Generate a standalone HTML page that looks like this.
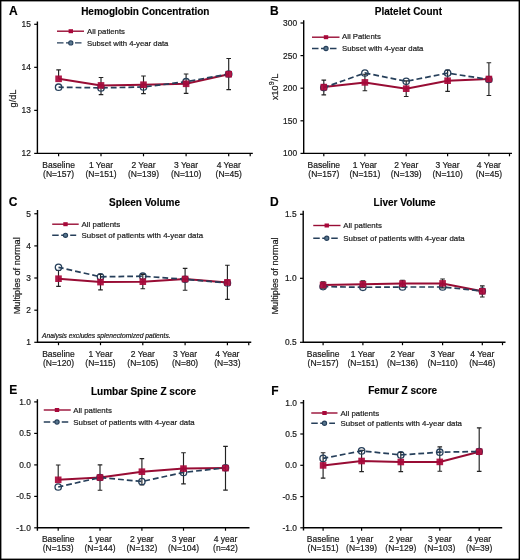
<!DOCTYPE html>
<html><head><meta charset="utf-8"><style>
html,body{margin:0;padding:0;background:#fff;}
svg{display:block;font-family:"Liberation Sans", sans-serif;}
text{fill:#1a1a1a;stroke:#1a1a1a;stroke-width:0.2px;}
text[font-weight=bold]{fill:#000;stroke:#000;stroke-width:0.15px;}
text{filter:grayscale(1);}
</style></head><body>
<svg width="520" height="560" viewBox="0 0 520 560">
<rect width="520" height="560" fill="#fff"/>
<rect x="0.7" y="0.7" width="518.6" height="558.6" fill="none" stroke="#000" stroke-width="1.4"/>
<text x="9" y="15.1" font-size="12" font-weight="bold" fill="#000">A</text>
<text x="145.3" y="15" font-size="10" font-weight="bold" text-anchor="middle" fill="#000">Hemoglobin Concentration</text>
<path d="M37.4 21.5V153.4M36.75 153.4H252.8" fill="none" stroke="#000" stroke-width="1.4"/>
<path d="M34.2 24.3H37.4" stroke="#000" stroke-width="1.2"/>
<text x="30.8" y="27.3" font-size="8.4" text-anchor="end" fill="#222">15</text>
<path d="M34.2 67.33H37.4" stroke="#000" stroke-width="1.2"/>
<text x="30.8" y="70.33" font-size="8.4" text-anchor="end" fill="#222">14</text>
<path d="M34.2 110.37H37.4" stroke="#000" stroke-width="1.2"/>
<text x="30.8" y="113.37" font-size="8.4" text-anchor="end" fill="#222">13</text>
<path d="M34.2 153.4H37.4" stroke="#000" stroke-width="1.2"/>
<text x="30.8" y="156.4" font-size="8.4" text-anchor="end" fill="#222">12</text>
<path d="M58.6 153.4V156.3" stroke="#000" stroke-width="1.2"/>
<path d="M101 153.4V156.3" stroke="#000" stroke-width="1.2"/>
<path d="M143.5 153.4V156.3" stroke="#000" stroke-width="1.2"/>
<path d="M186.1 153.4V156.3" stroke="#000" stroke-width="1.2"/>
<path d="M228.7 153.4V156.3" stroke="#000" stroke-width="1.2"/>
<path d="M250.2 153.4V156.3" stroke="#000" stroke-width="1.2"/>
<text x="58.6" y="167.6" font-size="8.5" text-anchor="middle" fill="#222">Baseline</text>
<text x="58.6" y="176.8" font-size="8.5" text-anchor="middle" fill="#222">(N=157)</text>
<text x="101" y="167.6" font-size="8.5" text-anchor="middle" fill="#222">1 Year</text>
<text x="101" y="176.8" font-size="8.5" text-anchor="middle" fill="#222">(N=151)</text>
<text x="143.5" y="167.6" font-size="8.5" text-anchor="middle" fill="#222">2 Year</text>
<text x="143.5" y="176.8" font-size="8.5" text-anchor="middle" fill="#222">(N=139)</text>
<text x="186.1" y="167.6" font-size="8.5" text-anchor="middle" fill="#222">3 Year</text>
<text x="186.1" y="176.8" font-size="8.5" text-anchor="middle" fill="#222">(N=110)</text>
<text x="228.7" y="167.6" font-size="8.5" text-anchor="middle" fill="#222">4 Year</text>
<text x="228.7" y="176.8" font-size="8.5" text-anchor="middle" fill="#222">(N=45)</text>
<text transform="translate(16.4 98.5) rotate(-90)" font-size="9.2" text-anchor="middle" fill="#222">g/dL</text>
<path d="M57 31.2H84" stroke="#980c34" stroke-width="1.4"/>
<rect x="68.6" y="29.2" width="4.4" height="4" fill="#a8083a"/>
<path d="M57 42.9H81.5" stroke="#263f5a" stroke-width="1.4" stroke-dasharray="6.5 2.5"/>
<circle cx="70.8" cy="42.9" r="2.1" fill="#5a7890" stroke="#263f5a" stroke-width="1.1"/>
<text x="87" y="34" font-size="7.75" fill="#222">All patients</text>
<text x="87" y="45.7" font-size="7.75" fill="#222">Subset with 4-year data</text>
<path d="M58.6 78.8V69.8M56.3 69.8H60.9" stroke="#222" stroke-width="1.15" fill="none"/>
<path d="M101 85.4V77.5M98.7 77.5H103.3" stroke="#222" stroke-width="1.15" fill="none"/>
<path d="M101 85.4V94.6M98.7 94.6H103.3" stroke="#222" stroke-width="1.15" fill="none"/>
<path d="M143.5 84.7V76M141.2 76H145.8" stroke="#222" stroke-width="1.15" fill="none"/>
<path d="M143.5 84.7V93.6M141.2 93.6H145.8" stroke="#222" stroke-width="1.15" fill="none"/>
<path d="M186.1 83.8V74M183.8 74H188.4" stroke="#222" stroke-width="1.15" fill="none"/>
<path d="M186.1 83.8V93.3M183.8 93.3H188.4" stroke="#222" stroke-width="1.15" fill="none"/>
<path d="M228.7 74.2V58.5M226.4 58.5H231" stroke="#222" stroke-width="1.15" fill="none"/>
<path d="M228.7 74.2V89.6M226.4 89.6H231" stroke="#222" stroke-width="1.15" fill="none"/>
<polyline points="58.6,78.8 101,85.4 143.5,84.7 186.1,83.8 228.7,74.2" fill="none" stroke="#980c34" stroke-width="2"/>
<polyline points="58.6,87.2 101,87.9 143.5,87 186.1,81.7 228.7,74" fill="none" stroke="#263f5a" stroke-width="1.7" stroke-dasharray="5.8 3" stroke-dashoffset="0.6"/>
<circle cx="58.6" cy="87.2" r="3.2" fill="none" stroke="#263f5a" stroke-width="1.3"/>
<circle cx="101" cy="87.9" r="3.2" fill="none" stroke="#263f5a" stroke-width="1.3"/>
<circle cx="143.5" cy="87" r="3.2" fill="none" stroke="#263f5a" stroke-width="1.3"/>
<circle cx="186.1" cy="81.7" r="3.2" fill="none" stroke="#263f5a" stroke-width="1.3"/>
<circle cx="228.7" cy="74" r="3.2" fill="none" stroke="#263f5a" stroke-width="1.3"/>
<rect x="55.3" y="75.5" width="6.6" height="6.6" fill="#a8083a" fill-opacity="0.92"/>
<rect x="97.7" y="82.1" width="6.6" height="6.6" fill="#a8083a" fill-opacity="0.92"/>
<rect x="140.2" y="81.4" width="6.6" height="6.6" fill="#a8083a" fill-opacity="0.92"/>
<rect x="182.8" y="80.5" width="6.6" height="6.6" fill="#a8083a" fill-opacity="0.92"/>
<rect x="225.4" y="70.9" width="6.6" height="6.6" fill="#a8083a" fill-opacity="0.92"/>
<text x="270" y="15.1" font-size="12" font-weight="bold" fill="#000">B</text>
<text x="408.4" y="15.1" font-size="10" font-weight="bold" text-anchor="middle" fill="#000">Platelet Count</text>
<path d="M303.7 20.2V153.4M303.05 153.4H512" fill="none" stroke="#000" stroke-width="1.4"/>
<path d="M300.5 23H303.7" stroke="#000" stroke-width="1.2"/>
<text x="297.1" y="26" font-size="8.4" text-anchor="end" fill="#222">300</text>
<path d="M300.5 55.6H303.7" stroke="#000" stroke-width="1.2"/>
<text x="297.1" y="58.6" font-size="8.4" text-anchor="end" fill="#222">250</text>
<path d="M300.5 88.2H303.7" stroke="#000" stroke-width="1.2"/>
<text x="297.1" y="91.2" font-size="8.4" text-anchor="end" fill="#222">200</text>
<path d="M300.5 120.8H303.7" stroke="#000" stroke-width="1.2"/>
<text x="297.1" y="123.8" font-size="8.4" text-anchor="end" fill="#222">150</text>
<path d="M300.5 153.4H303.7" stroke="#000" stroke-width="1.2"/>
<text x="297.1" y="156.4" font-size="8.4" text-anchor="end" fill="#222">100</text>
<path d="M323.8 153.4V156.3" stroke="#000" stroke-width="1.2"/>
<path d="M364.9 153.4V156.3" stroke="#000" stroke-width="1.2"/>
<path d="M406.2 153.4V156.3" stroke="#000" stroke-width="1.2"/>
<path d="M447.6 153.4V156.3" stroke="#000" stroke-width="1.2"/>
<path d="M488.9 153.4V156.3" stroke="#000" stroke-width="1.2"/>
<path d="M509.5 153.4V156.3" stroke="#000" stroke-width="1.2"/>
<text x="323.8" y="167.6" font-size="8.5" text-anchor="middle" fill="#222">Baseline</text>
<text x="323.8" y="176.8" font-size="8.5" text-anchor="middle" fill="#222">(N=157)</text>
<text x="364.9" y="167.6" font-size="8.5" text-anchor="middle" fill="#222">1 Year</text>
<text x="364.9" y="176.8" font-size="8.5" text-anchor="middle" fill="#222">(N=151)</text>
<text x="406.2" y="167.6" font-size="8.5" text-anchor="middle" fill="#222">2 Year</text>
<text x="406.2" y="176.8" font-size="8.5" text-anchor="middle" fill="#222">(N=139)</text>
<text x="447.6" y="167.6" font-size="8.5" text-anchor="middle" fill="#222">3 Year</text>
<text x="447.6" y="176.8" font-size="8.5" text-anchor="middle" fill="#222">(N=110)</text>
<text x="488.9" y="167.6" font-size="8.5" text-anchor="middle" fill="#222">4 Year</text>
<text x="488.9" y="176.8" font-size="8.5" text-anchor="middle" fill="#222">(N=45)</text>
<text transform="translate(277.6 86.9) rotate(-90)" font-size="9.2" text-anchor="middle" fill="#222">x10<tspan dy='-3.4' font-size='7'>9</tspan><tspan dy='3.4'>/L</tspan></text>
<path d="M312 37.2H339.5" stroke="#980c34" stroke-width="1.4"/>
<rect x="323.8" y="35.2" width="4.4" height="4" fill="#a8083a"/>
<path d="M312 48.5H337" stroke="#263f5a" stroke-width="1.4" stroke-dasharray="6.5 2.5"/>
<circle cx="326" cy="48.5" r="2.1" fill="#5a7890" stroke="#263f5a" stroke-width="1.1"/>
<text x="342" y="39.4" font-size="7.75" fill="#222">All Patients</text>
<text x="342" y="51.2" font-size="7.75" fill="#222">Subset with 4-year data</text>
<path d="M323.8 87.1V80.1M321.5 80.1H326.1" stroke="#222" stroke-width="1.15" fill="none"/>
<path d="M323.8 87.1V94.9M321.5 94.9H326.1" stroke="#222" stroke-width="1.15" fill="none"/>
<path d="M364.9 82.4V74.2M362.6 74.2H367.2" stroke="#222" stroke-width="1.15" fill="none"/>
<path d="M364.9 82.4V90.7M362.6 90.7H367.2" stroke="#222" stroke-width="1.15" fill="none"/>
<path d="M406.2 88.7V80.9M403.9 80.9H408.5" stroke="#222" stroke-width="1.15" fill="none"/>
<path d="M406.2 88.7V96.5M403.9 96.5H408.5" stroke="#222" stroke-width="1.15" fill="none"/>
<path d="M447.6 80.7V70.1M445.3 70.1H449.9" stroke="#222" stroke-width="1.15" fill="none"/>
<path d="M447.6 80.7V91.3M445.3 91.3H449.9" stroke="#222" stroke-width="1.15" fill="none"/>
<path d="M488.9 79V62.7M486.6 62.7H491.2" stroke="#222" stroke-width="1.15" fill="none"/>
<path d="M488.9 79V95.5M486.6 95.5H491.2" stroke="#222" stroke-width="1.15" fill="none"/>
<polyline points="323.8,87.1 364.9,82.4 406.2,88.7 447.6,80.7 488.9,79" fill="none" stroke="#980c34" stroke-width="2"/>
<polyline points="323.8,87.6 364.9,73 406.2,81.3 447.6,73.1 488.9,79.5" fill="none" stroke="#263f5a" stroke-width="1.7" stroke-dasharray="5.8 3" stroke-dashoffset="0.6"/>
<circle cx="323.8" cy="87.6" r="3.2" fill="none" stroke="#263f5a" stroke-width="1.3"/>
<circle cx="364.9" cy="73" r="3.2" fill="none" stroke="#263f5a" stroke-width="1.3"/>
<circle cx="406.2" cy="81.3" r="3.2" fill="none" stroke="#263f5a" stroke-width="1.3"/>
<circle cx="447.6" cy="73.1" r="3.2" fill="none" stroke="#263f5a" stroke-width="1.3"/>
<circle cx="488.9" cy="79.5" r="3.2" fill="none" stroke="#263f5a" stroke-width="1.3"/>
<rect x="320.5" y="83.8" width="6.6" height="6.6" fill="#a8083a" fill-opacity="0.92"/>
<rect x="361.6" y="79.1" width="6.6" height="6.6" fill="#a8083a" fill-opacity="0.92"/>
<rect x="402.9" y="85.4" width="6.6" height="6.6" fill="#a8083a" fill-opacity="0.92"/>
<rect x="444.3" y="77.4" width="6.6" height="6.6" fill="#a8083a" fill-opacity="0.92"/>
<rect x="485.6" y="75.7" width="6.6" height="6.6" fill="#a8083a" fill-opacity="0.92"/>
<text x="8.7" y="205.6" font-size="12" font-weight="bold" fill="#000">C</text>
<text x="144.6" y="206" font-size="10" font-weight="bold" text-anchor="middle" fill="#000">Spleen Volume</text>
<path d="M37.5 210V342.3M36.85 342.3H251.25" fill="none" stroke="#000" stroke-width="1.4"/>
<path d="M34.3 213.75H37.5" stroke="#000" stroke-width="1.2"/>
<text x="30.9" y="216.75" font-size="8.4" text-anchor="end" fill="#222">5</text>
<path d="M34.3 245.9H37.5" stroke="#000" stroke-width="1.2"/>
<text x="30.9" y="248.9" font-size="8.4" text-anchor="end" fill="#222">4</text>
<path d="M34.3 278H37.5" stroke="#000" stroke-width="1.2"/>
<text x="30.9" y="281" font-size="8.4" text-anchor="end" fill="#222">3</text>
<path d="M34.3 310.2H37.5" stroke="#000" stroke-width="1.2"/>
<text x="30.9" y="313.2" font-size="8.4" text-anchor="end" fill="#222">2</text>
<path d="M34.3 342.3H37.5" stroke="#000" stroke-width="1.2"/>
<text x="30.9" y="345.3" font-size="8.4" text-anchor="end" fill="#222">1</text>
<path d="M58.5 342.3V345.2" stroke="#000" stroke-width="1.2"/>
<path d="M100.5 342.3V345.2" stroke="#000" stroke-width="1.2"/>
<path d="M142.8 342.3V345.2" stroke="#000" stroke-width="1.2"/>
<path d="M185.1 342.3V345.2" stroke="#000" stroke-width="1.2"/>
<path d="M227.4 342.3V345.2" stroke="#000" stroke-width="1.2"/>
<path d="M248.75 342.3V345.2" stroke="#000" stroke-width="1.2"/>
<text x="58.5" y="356.5" font-size="8.5" text-anchor="middle" fill="#222">Baseline</text>
<text x="58.5" y="365.7" font-size="8.5" text-anchor="middle" fill="#222">(N=120)</text>
<text x="100.5" y="356.5" font-size="8.5" text-anchor="middle" fill="#222">1 Year</text>
<text x="100.5" y="365.7" font-size="8.5" text-anchor="middle" fill="#222">(N=115)</text>
<text x="142.8" y="356.5" font-size="8.5" text-anchor="middle" fill="#222">2 Year</text>
<text x="142.8" y="365.7" font-size="8.5" text-anchor="middle" fill="#222">(N=105)</text>
<text x="185.1" y="356.5" font-size="8.5" text-anchor="middle" fill="#222">3 Year</text>
<text x="185.1" y="365.7" font-size="8.5" text-anchor="middle" fill="#222">(N=80)</text>
<text x="227.4" y="356.5" font-size="8.5" text-anchor="middle" fill="#222">4 Year</text>
<text x="227.4" y="365.7" font-size="8.5" text-anchor="middle" fill="#222">(N=33)</text>
<text transform="translate(20.2 275.8) rotate(-90)" font-size="9.2" text-anchor="middle" fill="#222">Multiples of normal</text>
<text x="42" y="337.9" font-size="6.7" font-style="italic" fill="#222">Analysis excludes splenectomized patients.</text>
<path d="M52.2 224.2H78.7" stroke="#980c34" stroke-width="1.4"/>
<rect x="63.3" y="222.2" width="4.4" height="4" fill="#a8083a"/>
<path d="M52.2 235.3H76.2" stroke="#263f5a" stroke-width="1.4" stroke-dasharray="6.5 2.5"/>
<circle cx="65.5" cy="235.3" r="2.1" fill="#5a7890" stroke="#263f5a" stroke-width="1.1"/>
<text x="81.6" y="227" font-size="7.9" fill="#222">All patients</text>
<text x="81.6" y="238.1" font-size="7.9" fill="#222">Subset of patients with 4-year data</text>
<path d="M58.5 278.7V270.5M56.2 270.5H60.8" stroke="#222" stroke-width="1.15" fill="none"/>
<path d="M58.5 278.7V286.3M56.2 286.3H60.8" stroke="#222" stroke-width="1.15" fill="none"/>
<path d="M100.5 282.1V274.3M98.2 274.3H102.8" stroke="#222" stroke-width="1.15" fill="none"/>
<path d="M100.5 282.1V289.9M98.2 289.9H102.8" stroke="#222" stroke-width="1.15" fill="none"/>
<path d="M142.8 281.7V274.3M140.5 274.3H145.1" stroke="#222" stroke-width="1.15" fill="none"/>
<path d="M142.8 281.7V288.7M140.5 288.7H145.1" stroke="#222" stroke-width="1.15" fill="none"/>
<path d="M185.1 279V268.4M182.8 268.4H187.4" stroke="#222" stroke-width="1.15" fill="none"/>
<path d="M185.1 279V290.2M182.8 290.2H187.4" stroke="#222" stroke-width="1.15" fill="none"/>
<path d="M227.4 282.4V265.2M225.1 265.2H229.7" stroke="#222" stroke-width="1.15" fill="none"/>
<path d="M227.4 282.4V299.3M225.1 299.3H229.7" stroke="#222" stroke-width="1.15" fill="none"/>
<polyline points="58.5,278.7 100.5,282.1 142.8,281.7 185.1,279 227.4,282.4" fill="none" stroke="#980c34" stroke-width="2"/>
<polyline points="58.5,267.3 100.5,276.8 142.8,276.2 185.1,279.3 227.4,283" fill="none" stroke="#263f5a" stroke-width="1.7" stroke-dasharray="5.8 3" stroke-dashoffset="0.6"/>
<circle cx="58.5" cy="267.3" r="3.2" fill="none" stroke="#263f5a" stroke-width="1.3"/>
<circle cx="100.5" cy="276.8" r="3.2" fill="none" stroke="#263f5a" stroke-width="1.3"/>
<circle cx="142.8" cy="276.2" r="3.2" fill="none" stroke="#263f5a" stroke-width="1.3"/>
<circle cx="185.1" cy="279.3" r="3.2" fill="none" stroke="#263f5a" stroke-width="1.3"/>
<circle cx="227.4" cy="283" r="3.2" fill="none" stroke="#263f5a" stroke-width="1.3"/>
<rect x="55.2" y="275.4" width="6.6" height="6.6" fill="#a8083a" fill-opacity="0.92"/>
<rect x="97.2" y="278.8" width="6.6" height="6.6" fill="#a8083a" fill-opacity="0.92"/>
<rect x="139.5" y="278.4" width="6.6" height="6.6" fill="#a8083a" fill-opacity="0.92"/>
<rect x="181.8" y="275.7" width="6.6" height="6.6" fill="#a8083a" fill-opacity="0.92"/>
<rect x="224.1" y="279.1" width="6.6" height="6.6" fill="#a8083a" fill-opacity="0.92"/>
<text x="270" y="205.6" font-size="12" font-weight="bold" fill="#000">D</text>
<text x="404.6" y="206" font-size="10" font-weight="bold" text-anchor="middle" fill="#000">Liver Volume</text>
<path d="M303.2 210.75V342.3M302.55 342.3H505.5" fill="none" stroke="#000" stroke-width="1.4"/>
<path d="M300 214.25H303.2" stroke="#000" stroke-width="1.2"/>
<text x="296.6" y="217.25" font-size="8.4" text-anchor="end" fill="#222">1.5</text>
<path d="M300 278.3H303.2" stroke="#000" stroke-width="1.2"/>
<text x="296.6" y="281.3" font-size="8.4" text-anchor="end" fill="#222">1.0</text>
<path d="M300 342.3H303.2" stroke="#000" stroke-width="1.2"/>
<text x="296.6" y="345.3" font-size="8.4" text-anchor="end" fill="#222">0.5</text>
<path d="M323.1 342.3V345.2" stroke="#000" stroke-width="1.2"/>
<path d="M362.9 342.3V345.2" stroke="#000" stroke-width="1.2"/>
<path d="M402.5 342.3V345.2" stroke="#000" stroke-width="1.2"/>
<path d="M442.6 342.3V345.2" stroke="#000" stroke-width="1.2"/>
<path d="M482.3 342.3V345.2" stroke="#000" stroke-width="1.2"/>
<path d="M502.5 342.3V345.2" stroke="#000" stroke-width="1.2"/>
<text x="323.1" y="356.5" font-size="8.5" text-anchor="middle" fill="#222">Baseline</text>
<text x="323.1" y="365.7" font-size="8.5" text-anchor="middle" fill="#222">(N=157)</text>
<text x="362.9" y="356.5" font-size="8.5" text-anchor="middle" fill="#222">1 Year</text>
<text x="362.9" y="365.7" font-size="8.5" text-anchor="middle" fill="#222">(N=151)</text>
<text x="402.5" y="356.5" font-size="8.5" text-anchor="middle" fill="#222">2 Year</text>
<text x="402.5" y="365.7" font-size="8.5" text-anchor="middle" fill="#222">(N=136)</text>
<text x="442.6" y="356.5" font-size="8.5" text-anchor="middle" fill="#222">3 Year</text>
<text x="442.6" y="365.7" font-size="8.5" text-anchor="middle" fill="#222">(N=110)</text>
<text x="482.3" y="356.5" font-size="8.5" text-anchor="middle" fill="#222">4 Year</text>
<text x="482.3" y="365.7" font-size="8.5" text-anchor="middle" fill="#222">(N=46)</text>
<text transform="translate(278.3 276) rotate(-90)" font-size="9.2" text-anchor="middle" fill="#222">Multiples of normal</text>
<path d="M313.25 225.5H340.5" stroke="#980c34" stroke-width="1.4"/>
<rect x="324.55" y="223.5" width="4.4" height="4" fill="#a8083a"/>
<path d="M313.25 238.25H338" stroke="#263f5a" stroke-width="1.4" stroke-dasharray="6.5 2.5"/>
<circle cx="326.75" cy="238.25" r="2.1" fill="#5a7890" stroke="#263f5a" stroke-width="1.1"/>
<text x="343.25" y="228.3" font-size="7.9" fill="#222">All patients</text>
<text x="343.25" y="241" font-size="7.9" fill="#222">Subset of patients with 4-year data</text>
<path d="M323.1 285V281.8M320.8 281.8H325.4" stroke="#222" stroke-width="1.15" fill="none"/>
<path d="M323.1 285V288.2M320.8 288.2H325.4" stroke="#222" stroke-width="1.15" fill="none"/>
<path d="M362.9 284.2V280.9M360.6 280.9H365.2" stroke="#222" stroke-width="1.15" fill="none"/>
<path d="M362.9 284.2V287.5M360.6 287.5H365.2" stroke="#222" stroke-width="1.15" fill="none"/>
<path d="M402.5 283.6V280.2M400.2 280.2H404.8" stroke="#222" stroke-width="1.15" fill="none"/>
<path d="M402.5 283.6V287M400.2 287H404.8" stroke="#222" stroke-width="1.15" fill="none"/>
<path d="M442.6 283.4V279M440.3 279H444.9" stroke="#222" stroke-width="1.15" fill="none"/>
<path d="M442.6 283.4V287.8M440.3 287.8H444.9" stroke="#222" stroke-width="1.15" fill="none"/>
<path d="M482.3 291.3V285.8M480 285.8H484.6" stroke="#222" stroke-width="1.15" fill="none"/>
<path d="M482.3 291.3V297M480 297H484.6" stroke="#222" stroke-width="1.15" fill="none"/>
<polyline points="323.1,285 362.9,284.2 402.5,283.6 442.6,283.4 482.3,291.3" fill="none" stroke="#980c34" stroke-width="2"/>
<polyline points="323.1,286.6 362.9,287.3 402.5,287 442.6,287 482.3,291" fill="none" stroke="#263f5a" stroke-width="1.7" stroke-dasharray="5.8 3" stroke-dashoffset="0.6"/>
<circle cx="323.1" cy="286.6" r="3.2" fill="none" stroke="#263f5a" stroke-width="1.3"/>
<circle cx="362.9" cy="287.3" r="3.2" fill="none" stroke="#263f5a" stroke-width="1.3"/>
<circle cx="402.5" cy="287" r="3.2" fill="none" stroke="#263f5a" stroke-width="1.3"/>
<circle cx="442.6" cy="287" r="3.2" fill="none" stroke="#263f5a" stroke-width="1.3"/>
<circle cx="482.3" cy="291" r="3.2" fill="none" stroke="#263f5a" stroke-width="1.3"/>
<rect x="319.8" y="281.7" width="6.6" height="6.6" fill="#a8083a" fill-opacity="0.92"/>
<rect x="359.6" y="280.9" width="6.6" height="6.6" fill="#a8083a" fill-opacity="0.92"/>
<rect x="399.2" y="280.3" width="6.6" height="6.6" fill="#a8083a" fill-opacity="0.92"/>
<rect x="439.3" y="280.1" width="6.6" height="6.6" fill="#a8083a" fill-opacity="0.92"/>
<rect x="479" y="288" width="6.6" height="6.6" fill="#a8083a" fill-opacity="0.92"/>
<text x="9.3" y="394.3" font-size="12" font-weight="bold" fill="#000">E</text>
<text x="143.5" y="394.8" font-size="10" font-weight="bold" text-anchor="middle" fill="#000">Lumbar Spine Z score</text>
<path d="M37.4 399.3V530.8M36.75 527.8H249.5" fill="none" stroke="#000" stroke-width="1.4"/>
<path d="M34.2 401.9H37.4" stroke="#000" stroke-width="1.2"/>
<text x="30.8" y="404.9" font-size="8.4" text-anchor="end" fill="#222">1.0</text>
<path d="M34.2 433.4H37.4" stroke="#000" stroke-width="1.2"/>
<text x="30.8" y="436.4" font-size="8.4" text-anchor="end" fill="#222">0.5</text>
<path d="M34.2 464.9H37.4" stroke="#000" stroke-width="1.2"/>
<text x="30.8" y="467.9" font-size="8.4" text-anchor="end" fill="#222">0.0</text>
<path d="M34.2 496.4H37.4" stroke="#000" stroke-width="1.2"/>
<text x="30.8" y="499.4" font-size="8.4" text-anchor="end" fill="#222">-0.5</text>
<path d="M34.2 527.8H37.4" stroke="#000" stroke-width="1.2"/>
<text x="30.8" y="530.8" font-size="8.4" text-anchor="end" fill="#222">-1.0</text>
<path d="M58.2 527.8V530.7" stroke="#000" stroke-width="1.2"/>
<path d="M100 527.8V530.7" stroke="#000" stroke-width="1.2"/>
<path d="M141.9 527.8V530.7" stroke="#000" stroke-width="1.2"/>
<path d="M183.5 527.8V530.7" stroke="#000" stroke-width="1.2"/>
<path d="M225.5 527.8V530.7" stroke="#000" stroke-width="1.2"/>
<text x="58.2" y="542" font-size="8.5" text-anchor="middle" fill="#222">Baseline</text>
<text x="58.2" y="551.2" font-size="8.5" text-anchor="middle" fill="#222">(N=153)</text>
<text x="100" y="542" font-size="8.5" text-anchor="middle" fill="#222">1 year</text>
<text x="100" y="551.2" font-size="8.5" text-anchor="middle" fill="#222">(N=144)</text>
<text x="141.9" y="542" font-size="8.5" text-anchor="middle" fill="#222">2 year</text>
<text x="141.9" y="551.2" font-size="8.5" text-anchor="middle" fill="#222">(N=132)</text>
<text x="183.5" y="542" font-size="8.5" text-anchor="middle" fill="#222">3 year</text>
<text x="183.5" y="551.2" font-size="8.5" text-anchor="middle" fill="#222">(N=104)</text>
<text x="225.5" y="542" font-size="8.5" text-anchor="middle" fill="#222">4 year</text>
<text x="225.5" y="551.2" font-size="8.5" text-anchor="middle" fill="#222">(n=42)</text>
<path d="M43.75 410H70.75" stroke="#980c34" stroke-width="1.4"/>
<rect x="54.8" y="408" width="4.4" height="4" fill="#a8083a"/>
<path d="M43.75 422H68.25" stroke="#263f5a" stroke-width="1.4" stroke-dasharray="6.5 2.5"/>
<circle cx="57" cy="422" r="2.1" fill="#5a7890" stroke="#263f5a" stroke-width="1.1"/>
<text x="73.25" y="412.8" font-size="7.9" fill="#222">All patients</text>
<text x="73.25" y="424.8" font-size="7.9" fill="#222">Subset of patients with 4-year data</text>
<path d="M58.2 479.8V465M55.9 465H60.5" stroke="#222" stroke-width="1.15" fill="none"/>
<path d="M100 477.5V464.8M97.7 464.8H102.3" stroke="#222" stroke-width="1.15" fill="none"/>
<path d="M100 477.5V490.2M97.7 490.2H102.3" stroke="#222" stroke-width="1.15" fill="none"/>
<path d="M141.9 471.7V458.6M139.6 458.6H144.2" stroke="#222" stroke-width="1.15" fill="none"/>
<path d="M141.9 471.7V484.8M139.6 484.8H144.2" stroke="#222" stroke-width="1.15" fill="none"/>
<path d="M183.5 468.6V452.7M181.2 452.7H185.8" stroke="#222" stroke-width="1.15" fill="none"/>
<path d="M183.5 468.6V483.8M181.2 483.8H185.8" stroke="#222" stroke-width="1.15" fill="none"/>
<path d="M225.5 468.1V446.3M223.2 446.3H227.8" stroke="#222" stroke-width="1.15" fill="none"/>
<path d="M225.5 468.1V490.1M223.2 490.1H227.8" stroke="#222" stroke-width="1.15" fill="none"/>
<polyline points="58.2,479.8 100,477.5 141.9,471.7 183.5,468.6 225.5,468.1" fill="none" stroke="#980c34" stroke-width="2"/>
<polyline points="58.2,487 100,477.5 141.9,481.5 183.5,472.4 225.5,467.8" fill="none" stroke="#263f5a" stroke-width="1.7" stroke-dasharray="5.8 3" stroke-dashoffset="0.6"/>
<circle cx="58.2" cy="487" r="3.2" fill="none" stroke="#263f5a" stroke-width="1.3"/>
<circle cx="100" cy="477.5" r="3.2" fill="none" stroke="#263f5a" stroke-width="1.3"/>
<circle cx="141.9" cy="481.5" r="3.2" fill="none" stroke="#263f5a" stroke-width="1.3"/>
<circle cx="183.5" cy="472.4" r="3.2" fill="none" stroke="#263f5a" stroke-width="1.3"/>
<circle cx="225.5" cy="467.8" r="3.2" fill="none" stroke="#263f5a" stroke-width="1.3"/>
<rect x="54.9" y="476.5" width="6.6" height="6.6" fill="#a8083a" fill-opacity="0.92"/>
<rect x="96.7" y="474.2" width="6.6" height="6.6" fill="#a8083a" fill-opacity="0.92"/>
<rect x="138.6" y="468.4" width="6.6" height="6.6" fill="#a8083a" fill-opacity="0.92"/>
<rect x="180.2" y="465.3" width="6.6" height="6.6" fill="#a8083a" fill-opacity="0.92"/>
<rect x="222.2" y="464.8" width="6.6" height="6.6" fill="#a8083a" fill-opacity="0.92"/>
<text x="271.2" y="394.9" font-size="12" font-weight="bold" fill="#000">F</text>
<text x="402.7" y="394.4" font-size="10" font-weight="bold" text-anchor="middle" fill="#000">Femur Z score</text>
<path d="M303.5 400V530.5M302.85 527.8H502.2" fill="none" stroke="#000" stroke-width="1.4"/>
<path d="M300.3 402.8H303.5" stroke="#000" stroke-width="1.2"/>
<text x="296.9" y="405.8" font-size="8.4" text-anchor="end" fill="#222">1.0</text>
<path d="M300.3 434H303.5" stroke="#000" stroke-width="1.2"/>
<text x="296.9" y="437" font-size="8.4" text-anchor="end" fill="#222">0.5</text>
<path d="M300.3 465.3H303.5" stroke="#000" stroke-width="1.2"/>
<text x="296.9" y="468.3" font-size="8.4" text-anchor="end" fill="#222">0.0</text>
<path d="M300.3 496.6H303.5" stroke="#000" stroke-width="1.2"/>
<text x="296.9" y="499.6" font-size="8.4" text-anchor="end" fill="#222">-0.5</text>
<path d="M300.3 527.8H303.5" stroke="#000" stroke-width="1.2"/>
<text x="296.9" y="530.8" font-size="8.4" text-anchor="end" fill="#222">-1.0</text>
<path d="M323.1 527.8V530.7" stroke="#000" stroke-width="1.2"/>
<path d="M361.6 527.8V530.7" stroke="#000" stroke-width="1.2"/>
<path d="M400.8 527.8V530.7" stroke="#000" stroke-width="1.2"/>
<path d="M439.8 527.8V530.7" stroke="#000" stroke-width="1.2"/>
<path d="M479.2 527.8V530.7" stroke="#000" stroke-width="1.2"/>
<text x="323.1" y="542" font-size="8.5" text-anchor="middle" fill="#222">Baseline</text>
<text x="323.1" y="551.2" font-size="8.5" text-anchor="middle" fill="#222">(N=151)</text>
<text x="361.6" y="542" font-size="8.5" text-anchor="middle" fill="#222">1 year</text>
<text x="361.6" y="551.2" font-size="8.5" text-anchor="middle" fill="#222">(N=139)</text>
<text x="400.8" y="542" font-size="8.5" text-anchor="middle" fill="#222">2 year</text>
<text x="400.8" y="551.2" font-size="8.5" text-anchor="middle" fill="#222">(N=129)</text>
<text x="439.8" y="542" font-size="8.5" text-anchor="middle" fill="#222">3 year</text>
<text x="439.8" y="551.2" font-size="8.5" text-anchor="middle" fill="#222">(N=103)</text>
<text x="479.2" y="542" font-size="8.5" text-anchor="middle" fill="#222">4 year</text>
<text x="479.2" y="551.2" font-size="8.5" text-anchor="middle" fill="#222">(N=39)</text>
<path d="M311.25 413H337.5" stroke="#980c34" stroke-width="1.4"/>
<rect x="322.3" y="411" width="4.4" height="4" fill="#a8083a"/>
<path d="M311.25 423.25H335" stroke="#263f5a" stroke-width="1.4" stroke-dasharray="6.5 2.5"/>
<circle cx="324.5" cy="423.25" r="2.1" fill="#5a7890" stroke="#263f5a" stroke-width="1.1"/>
<text x="340.5" y="415.8" font-size="7.9" fill="#222">All patients</text>
<text x="340.5" y="426" font-size="7.9" fill="#222">Subset of patients with 4-year data</text>
<path d="M323.1 465.4V452.7M320.8 452.7H325.4" stroke="#222" stroke-width="1.15" fill="none"/>
<path d="M323.1 465.4V478.1M320.8 478.1H325.4" stroke="#222" stroke-width="1.15" fill="none"/>
<path d="M361.6 461V450.4M359.3 450.4H363.9" stroke="#222" stroke-width="1.15" fill="none"/>
<path d="M361.6 461V471.6M359.3 471.6H363.9" stroke="#222" stroke-width="1.15" fill="none"/>
<path d="M400.8 462V452.4M398.5 452.4H403.1" stroke="#222" stroke-width="1.15" fill="none"/>
<path d="M400.8 462V471.6M398.5 471.6H403.1" stroke="#222" stroke-width="1.15" fill="none"/>
<path d="M439.8 461.9V446.9M437.5 446.9H442.1" stroke="#222" stroke-width="1.15" fill="none"/>
<path d="M439.8 461.9V471.2M437.5 471.2H442.1" stroke="#222" stroke-width="1.15" fill="none"/>
<path d="M479.2 451.7V427.8M476.9 427.8H481.5" stroke="#222" stroke-width="1.15" fill="none"/>
<path d="M479.2 451.7V471.4M476.9 471.4H481.5" stroke="#222" stroke-width="1.15" fill="none"/>
<polyline points="323.1,465.4 361.6,461 400.8,462 439.8,461.9 479.2,451.7" fill="none" stroke="#980c34" stroke-width="2"/>
<polyline points="323.1,458.4 361.6,450.9 400.8,454.9 439.8,452.2 479.2,451.5" fill="none" stroke="#263f5a" stroke-width="1.7" stroke-dasharray="5.8 3" stroke-dashoffset="0.6"/>
<circle cx="323.1" cy="458.4" r="3.2" fill="none" stroke="#263f5a" stroke-width="1.3"/>
<circle cx="361.6" cy="450.9" r="3.2" fill="none" stroke="#263f5a" stroke-width="1.3"/>
<circle cx="400.8" cy="454.9" r="3.2" fill="none" stroke="#263f5a" stroke-width="1.3"/>
<circle cx="439.8" cy="452.2" r="3.2" fill="none" stroke="#263f5a" stroke-width="1.3"/>
<circle cx="479.2" cy="451.5" r="3.2" fill="none" stroke="#263f5a" stroke-width="1.3"/>
<rect x="319.8" y="462.1" width="6.6" height="6.6" fill="#a8083a" fill-opacity="0.92"/>
<rect x="358.3" y="457.7" width="6.6" height="6.6" fill="#a8083a" fill-opacity="0.92"/>
<rect x="397.5" y="458.7" width="6.6" height="6.6" fill="#a8083a" fill-opacity="0.92"/>
<rect x="436.5" y="458.6" width="6.6" height="6.6" fill="#a8083a" fill-opacity="0.92"/>
<rect x="475.9" y="448.4" width="6.6" height="6.6" fill="#a8083a" fill-opacity="0.92"/>
</svg>
</body></html>
